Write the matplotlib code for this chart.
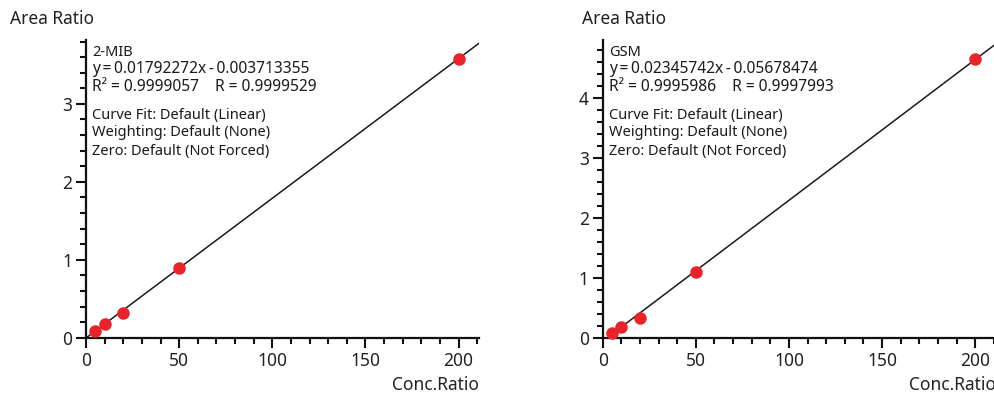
import matplotlib.pyplot as plt
from matplotlib.ticker import MultipleLocator

plt.rcParams['font.family'] = ['Noto Sans', 'DejaVu Sans']

# calibration data
conc = [5, 10, 20, 50, 200]
mib_area = [0.09, 0.18, 0.32, 0.90, 3.57]
gsm_area = [0.083, 0.18, 0.32, 1.10, 4.645]

mib_fit = (0.01792272, -0.003713355)
gsm_fit = (0.02345742, -0.05678474)

mib_text = ["2-MIB", "y\u2009=\u20090.01792272x\u2009-\u20090.003713355",
            "R\u00b2 = 0.9999057    R = 0.9999529"]
gsm_text = ["GSM", "y\u2009=\u20090.02345742x\u2009-\u20090.05678474",
            "R\u00b2 = 0.9995986    R = 0.9997993"]
fit_info = ["Curve Fit: Default (Linear)", "Weighting: Default (None)",
            "Zero: Default (Not Forced)"]

W, H = 994, 395
fig = plt.figure(figsize=(W / 100, H / 100), dpi=100)

panels = [
    dict(left=86, title_x=10, ymax=3.82, x=conc, y=mib_area, fit=mib_fit, text=mib_text),
    dict(left=602.7, title_x=582, ymax=4.96, x=conc, y=gsm_area, fit=gsm_fit, text=gsm_text),
]

xmax = 211
for p in panels:
    ax = fig.add_axes([p['left'] / W, (H - 337.7) / H, 393 / W, (337.7 - 40) / H])
    ax.set_xlim(0, xmax)
    ax.set_ylim(0, p['ymax'])
    a, b = p['fit']
    ax.plot([0, xmax + 5], [b, a * (xmax + 5) + b], color='#1a1a1a', lw=1.1, zorder=2)
    ax.plot(p['x'], p['y'], 'o', color='#e8232a', ms=9, mec='none', zorder=3, clip_on=False)
    for s in ['top', 'right']:
        ax.spines[s].set_visible(False)
    for s in ['left', 'bottom']:
        ax.spines[s].set_linewidth(1.6)
        ax.spines[s].set_color('#111111')
    ax.xaxis.set_major_locator(MultipleLocator(50))
    ax.xaxis.set_minor_locator(MultipleLocator(10))
    ax.yaxis.set_major_locator(MultipleLocator(1))
    ax.yaxis.set_minor_locator(MultipleLocator(0.2))
    ax.tick_params(which='major', length=7, width=1.5, color='#111111',
                   labelsize=12.5, labelcolor='#222222', pad=3)
    ax.tick_params(which='minor', length=4, width=1.5, color='#111111')

    tx = (p['left'] + 6) / W
    for yy, s, fs in zip([52, 69, 87], p['text'], [10.5, 11.2, 11.2]):
        fig.text(tx, 1 - yy / H, s, fontsize=fs, va='center', ha='left', color='#1a1a1a')
    for yy, s in zip([116, 133, 151], fit_info):
        fig.text(tx, 1 - yy / H, s, fontsize=10.5, va='center', ha='left', color='#1a1a1a')

    fig.text(p['title_x'] / W, 1 - 19 / H, "Area Ratio", fontsize=12.5,
             va='center', ha='left', color='#222222')
    fig.text((p['left'] + 393) / W, 1 - 385 / H, "Conc.Ratio", fontsize=12.5,
             va='center', ha='right', color='#222222')

fig.savefig('out.png', dpi=100)
